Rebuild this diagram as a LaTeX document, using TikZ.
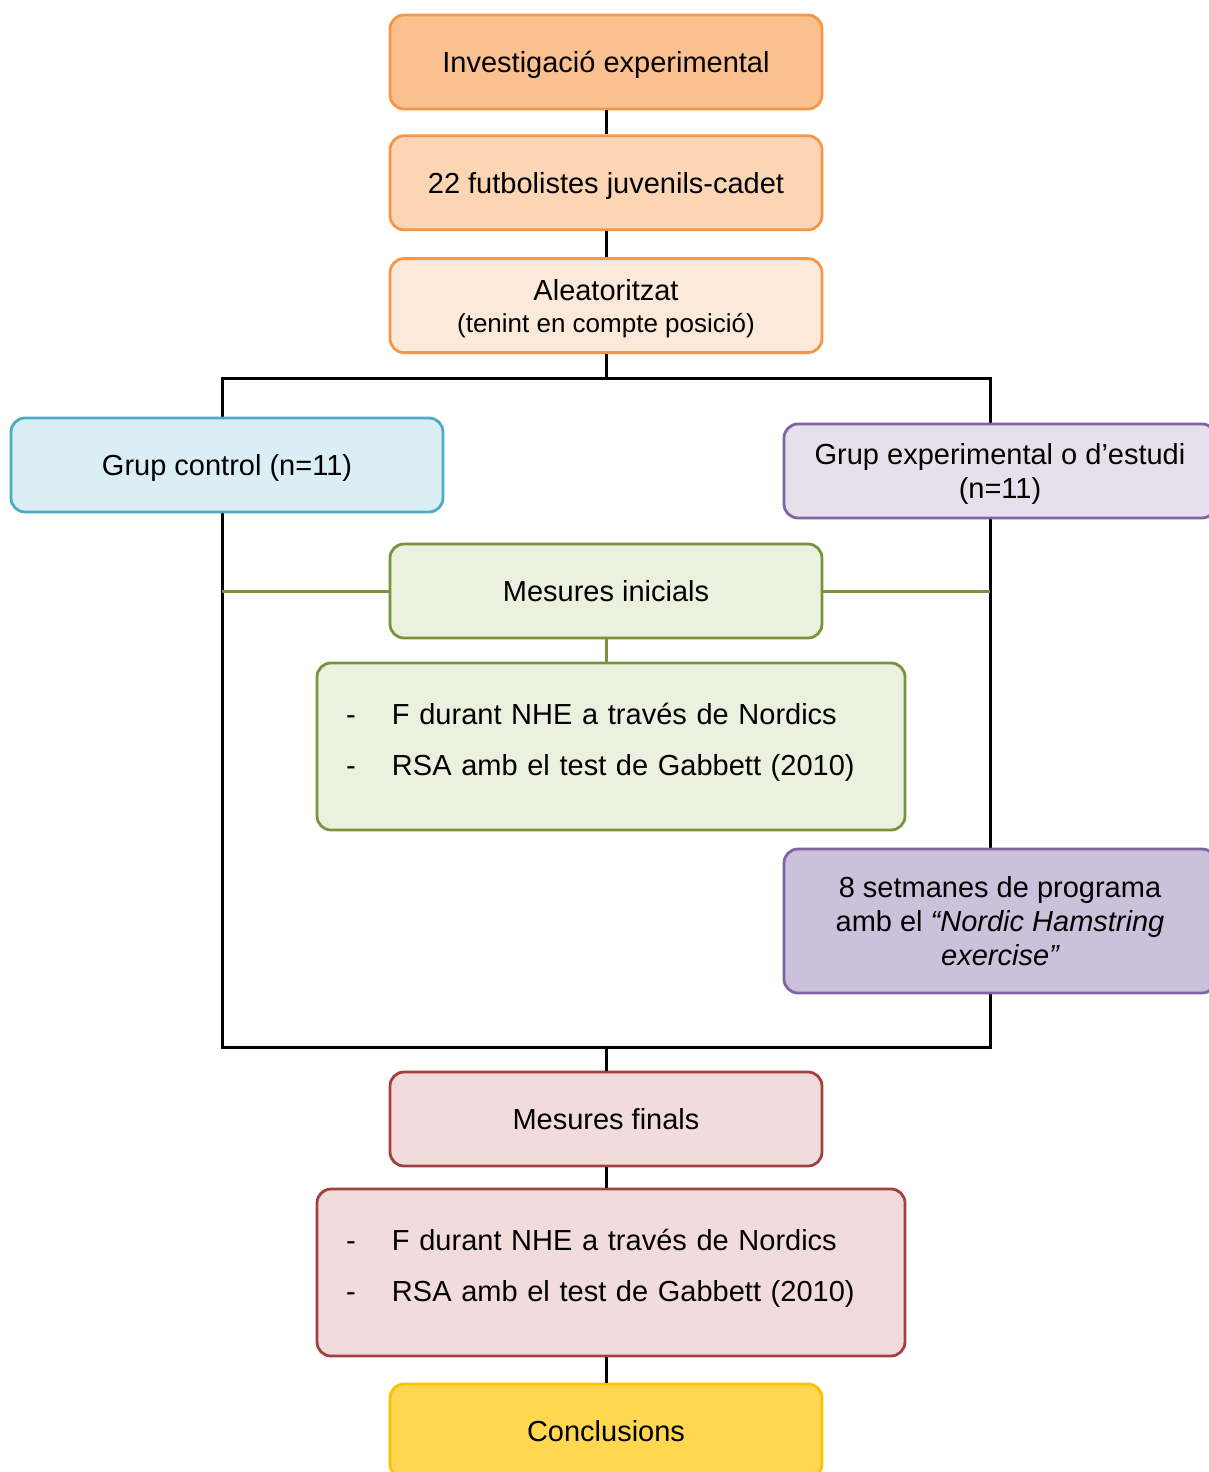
\documentclass[tikz,border=0pt]{standalone}
\usepackage{fontspec}
\setmainfont{Liberation Sans}
\usetikzlibrary{positioning}
\definecolor{orgline}{HTML}{F79646}
\definecolor{orgA}{HTML}{FAC090}
\definecolor{orgB}{HTML}{FCD5B5}
\definecolor{orgC}{HTML}{FDE9D9}
\definecolor{bluline}{HTML}{4BACC6}
\definecolor{blufill}{HTML}{DAEEF3}
\definecolor{purline}{HTML}{8064A2}
\definecolor{purA}{HTML}{E5E0EC}
\definecolor{purB}{HTML}{CCC1DA}
\definecolor{grnline}{HTML}{77933C}
\definecolor{grnfill}{HTML}{EBF1DE}
\definecolor{redline}{HTML}{A0413E}
\definecolor{redfill}{HTML}{F2DCDB}
\definecolor{yelline}{HTML}{FFC000}
\definecolor{yelfill}{HTML}{FFD750}
\begin{document}
\begin{tikzpicture}[
    x=1pt, y=-1pt,
    box/.style={draw, rounded corners=14pt, line width=2.8pt, align=center,
                font=\fontsize{29}{34}\selectfont, inner sep=0pt, text depth=0pt,
                minimum width=432pt, minimum height=94pt},
    listbox/.style={box, align=left, text width=530pt, text depth=66pt,
                font=\fontsize{29}{51}\selectfont, minimum width=588pt,
                minimum height=167pt},
    link/.style={line width=3pt},
    node distance=27pt
  ]
    \useasboundingbox (0,0) rectangle (1209,1472);
    % frame round the two groups
    \coordinate (fnw) at (222,378);
    \coordinate (fse) at (990,1047);
    \draw[link] (fnw) rectangle (fse);

    \node[box, draw=orgline, fill=orgA] (inv) at (606,62) {Investigació experimental};
    \node[box, draw=orgline, fill=orgB, below=24pt of inv] (fut) {22 futbolistes juvenils-cadet};
    \node[box, draw=orgline, fill=orgC, below=26pt of fut, text depth=-4.5pt] (ale)
      {Aleatoritzat\\[-2pt]{\fontsize{26}{30}\selectfont(tenint en compte posició)}};

    \node[box, draw=bluline, fill=blufill] (ctl) at (227,465) {Grup control (n=11)};
    \node[box, draw=purline, fill=purA, text depth=-7pt] (exp) at (1000,471)
      {Grup experimental o d’estudi\\(n=11)};

    \node[box, draw=grnline, fill=grnfill] (ini) at (606,591) {Mesures inicials};
    \node[listbox, draw=grnline, fill=grnfill] (gl) at (611,746.5)
      {\makebox[46pt][l]{-}F durant NHE a través de Nordics\\
       \makebox[46pt][l]{-}RSA amb el test de Gabbett (2010)};

    \node[box, draw=purline, fill=purB, minimum height=144pt] (prg) at (1000,921)
      {8 setmanes de programa\\amb el {\itshape “Nordic Hamstring}\\{\itshape exercise”}};

    \node[box, draw=redline, fill=redfill] (fin) at (606,1119) {Mesures finals};
    \node[listbox, draw=redline, fill=redfill] (rl) at (611,1272.5)
      {\makebox[46pt][l]{-}F durant NHE a través de Nordics\\
       \makebox[46pt][l]{-}RSA amb el test de Gabbett (2010)};
    \node[box, draw=yelline, fill=yelfill] (con) at (606,1431) {Conclusions};

    \coordinate (ftop) at (ale.south |- fnw);
    \coordinate (fbot) at (ale.south |- fse);
    \draw[link] (inv) -- (fut);
    \draw[link] (fut) -- (ale);
    \draw[link] (ale) -- (ftop);
    \draw[link, grnline] (ini.west) -- (ini.west -| fnw);
    \draw[link, grnline] (ini.east) -- (ini.east -| fse);
    \draw[link, grnline] (ini.south) -- (ini.south |- gl.north);
    \draw[link] (fbot) -- (fin);
    \draw[link] (fin.south) -- (fin.south |- rl.north);
    \draw[link] (rl.south -| con.north) -- (con);
  \end{tikzpicture}
\end{document}
